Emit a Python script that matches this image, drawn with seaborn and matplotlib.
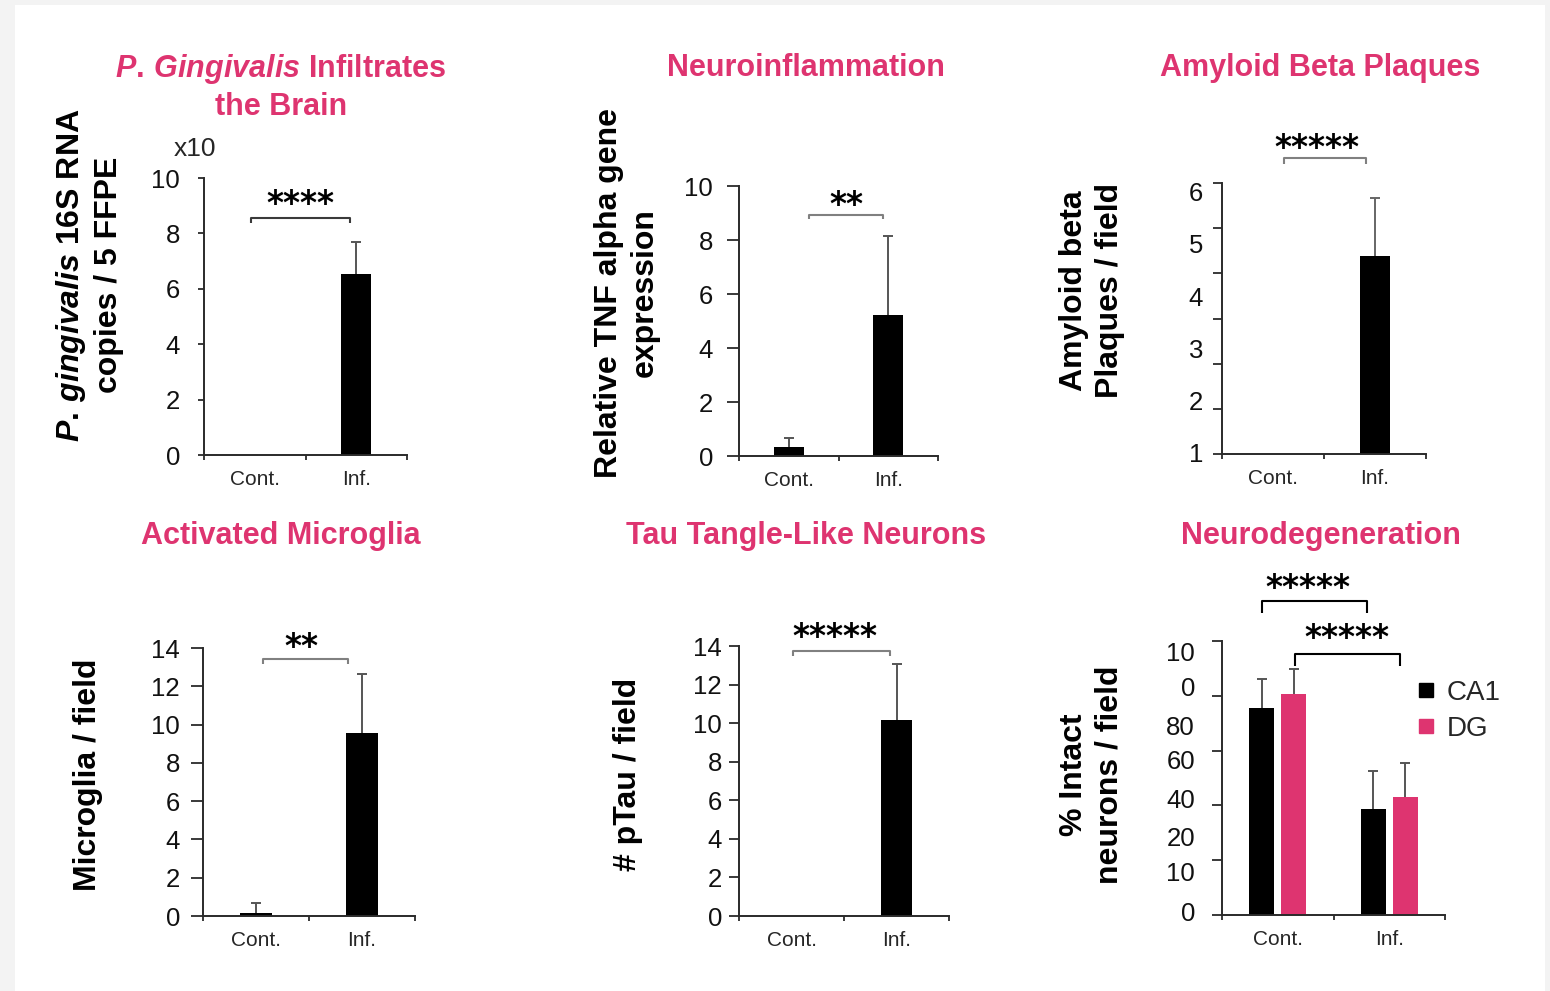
import numpy as np
import pandas as pd
import matplotlib
matplotlib.use("Agg")
import matplotlib.pyplot as plt
import seaborn as sns
from matplotlib.patches import Rectangle
from matplotlib.lines import Line2D
from matplotlib.transforms import offset_copy

sns.set_theme(style="white")
plt.rcParams["font.family"] = ["Liberation Sans", "DejaVu Sans"]
plt.rcParams["mathtext.fontset"] = "custom"
plt.rcParams["mathtext.it"] = "Liberation Sans:italic:bold"
plt.rcParams["mathtext.rm"] = "Liberation Sans:bold"

PINK = "#DE3470"

# ---------------- data ----------------
GROUPS = ["Cont.", "Inf."]

PG_MEAN = [0.0, 6.53]          # P. gingivalis 16S RNA copies (x10)
PG_ERR = [0.0, 1.15]
PG_YTICKS = [0, 2, 4, 6, 8, 10]

TNF_MEAN = [0.32, 5.21]        # relative TNF alpha expression
TNF_ERR = [0.33, 2.93]
TNF_YTICKS = [0, 2, 4, 6, 8, 10]

ABETA_MEAN = [0.0, 4.77]       # amyloid beta plaques per field
ABETA_ERR = [0.0, 1.10]
ABETA_YTICKS = [1, 2, 3, 4, 5, 6]

MICRO_MEAN = [0.17, 9.58]      # microglia per field
MICRO_ERR = [0.49, 3.04]
MICRO_YTICKS = [0, 2, 4, 6, 8, 10, 12, 14]

PTAU_MEAN = [0.0, 10.16]       # pTau per field
PTAU_ERR = [0.0, 2.89]
PTAU_YTICKS = [0, 2, 4, 6, 8, 10, 12, 14]

REGIONS = ["CA1", "DG"]
CA1_MEAN = [75.4, 38.6]        # % intact neurons per field
CA1_ERR = [10.6, 14.1]
DG_MEAN = [80.5, 43.0]
DG_ERR = [9.2, 12.4]
NEURO_YTICK_LABELS = ["0", "10", "20", "40", "60", "80", "0", "10"]

STARS = ["****", "**", "*****", "**", "*****", "*****", "*****"]

# ---------------- figure ----------------
W, H = 1550, 991
fig = plt.figure(figsize=(W / 100, H / 100), dpi=100)
fig.patch.set_facecolor("#f3f3f3")
fig.patches.append(Rectangle((15 / W, 0), 1530 / W, (H - 5) / H,
                             transform=fig.transFigure, facecolor="white",
                             edgecolor="none", zorder=-10))

PX = 0.72  # points per pixel


def px_axes(x0, y0, x1, y1):
    return fig.add_axes([x0 / W, 1 - y1 / H, (x1 - x0) / W, (y1 - y0) / H])


def ftext(x, y, s, **kw):
    return fig.text(x / W, 1 - y / H, s, **kw)


def style_axes(ax, ylim, tick_len, label_gap):
    ax.set_facecolor("none")
    for side in ("top", "right"):
        ax.spines[side].set_visible(False)
    for side in ("left", "bottom"):
        ax.spines[side].set_color("#2a2a2a")
        ax.spines[side].set_linewidth(1.4)
    ax.set_xlim(-0.5, 1.5)
    ax.set_ylim(*ylim)
    ax.set_xlabel("")
    ax.set_ylabel("")
    ax.set_xticks([0, 1])
    ax.set_xticklabels(GROUPS, fontsize=15)
    ax.set_xticks([-0.5, 0.5, 1.5], minor=True)
    ax.tick_params(axis="x", which="major", length=0, pad=10.5)
    ax.tick_params(axis="x", which="minor", length=5 * PX, width=1.3,
                   color="#2a2a2a", direction="out", bottom=True)
    ax.tick_params(axis="y", which="both", left=True, direction="out",
                   color="#2a2a2a", width=1.3, labelsize=18.5,
                   labelcolor="#111111")
    ax.tick_params(axis="y", which="major", length=tick_len * PX,
                   pad=(label_gap - tick_len) * PX)


def add_errors(ax, errs, color="#555555"):
    # upper-only error bars with a single cap
    bars = sorted(ax.patches, key=lambda p: p.get_x())
    for p, e in zip(bars, errs):
        if e <= 0:
            continue
        cx = p.get_x() + p.get_width() / 2
        _, caps, _ = ax.errorbar(cx, p.get_height(), yerr=[[0], [e]],
                                 fmt="none", ecolor=color, elinewidth=1.4,
                                 capsize=3.5, capthick=1.4, zorder=3)
        caps[0].remove()


def add_bracket(ax, x0, x1, y, drop, stars, sx, sy, color="#808080"):
    ax.plot([x0, x0, x1, x1], [y - drop, y, y, y - drop], color=color,
            lw=1.5, clip_on=False, solid_capstyle="butt")
    trans = offset_copy(ax.transData, fig=fig, x=0, y=-7 * PX,
                        units="points")
    ax.text(sx, sy, stars, ha="center", va="center", fontsize=23.5,
            family="DejaVu Sans", fontweight="bold", color="black",
            clip_on=False, transform=trans)


def simple_panel(box, mean, err, ylim, yticks, tick_len, label_gap):
    ax = px_axes(*box)
    sns.barplot(x=GROUPS, y=mean, color="black", width=0.3, saturation=1,
                errorbar=None, linewidth=0, ax=ax)
    style_axes(ax, ylim, tick_len, label_gap)
    ax.set_yticks(yticks)
    ax.set_yticklabels([str(v) for v in yticks])
    add_errors(ax, err)
    return ax


TITLE_KW = dict(fontsize=22, fontweight="bold", color=PINK, ha="center",
                va="center", multialignment="center", linespacing=1.22)
YLAB_KW = dict(fontsize=23, fontweight="bold", color="black", ha="center",
               va="center", rotation=90, multialignment="center",
               linespacing=1.25)

# --- P. gingivalis ---
ax1 = simple_panel((204, 178, 407, 455), PG_MEAN, PG_ERR, (0, 10),
                   PG_YTICKS, 6, 24)
add_bracket(ax1, -0.04, 0.94, 8.56, 0.17, STARS[0], 0.45, 9.3,
            color="#3a3a3a")
ftext(195, 149, "x10", fontsize=19, ha="center", va="center")
ftext(281, 87, "$\\mathit{P.\\,Gingivalis}$ Infiltrates\nthe Brain",
      **TITLE_KW)
ftext(89, 275, "$\\mathit{P.\\,gingivalis}$ 16S RNA\ncopies / 5 FFPE",
      **YLAB_KW)

# --- TNF alpha ---
ax2 = simple_panel((739, 186, 938, 456), TNF_MEAN, TNF_ERR, (0, 10),
                   TNF_YTICKS, 12, 26)
add_bracket(ax2, 0.2, 0.945, 8.93, 0.17, STARS[1], 0.58, 9.55)
ftext(806, 68, "Neuroinflammation", **TITLE_KW)
ftext(627, 293, "Relative TNF alpha gene\nexpression", **YLAB_KW)

# --- Amyloid beta ---
ax3 = px_axes(1222, 183, 1426, 454)
sns.barplot(x=GROUPS, y=ABETA_MEAN, color="black", width=0.3, saturation=1,
            errorbar=None, linewidth=0, ax=ax3)
abeta_lim = (0.98, 6.16)
style_axes(ax3, abeta_lim, 0, 19)
ax3.set_yticks(ABETA_YTICKS)
ax3.set_yticklabels([str(v) for v in ABETA_YTICKS])
ax3.set_yticks(np.linspace(*abeta_lim, 7), minor=True)
ax3.tick_params(axis="y", which="minor", length=9 * PX)
ax3.tick_params(axis="x", which="minor", length=5 * PX)
add_errors(ax3, ABETA_ERR, color="#666666")
add_bracket(ax3, 0.11, 0.91, 6.63, 0.1, STARS[2], 0.43, 6.95)
ftext(1320, 68, "Amyloid Beta Plaques", **TITLE_KW)
ftext(1092, 291, "Amyloid beta\nPlaques / field", **YLAB_KW)

# --- Microglia ---
ax4 = simple_panel((203, 648, 415, 916), MICRO_MEAN, MICRO_ERR, (0, 14),
                   MICRO_YTICKS, 12, 23)
add_bracket(ax4, 0.07, 0.87, 13.44, 0.26, STARS[3], 0.43, 14.4)
ftext(281, 536, "Activated Microglia", **TITLE_KW)
ftext(88, 775, "Microglia / field", **YLAB_KW)

# --- pTau ---
ax5 = simple_panel((739, 646, 949, 916), PTAU_MEAN, PTAU_ERR, (0, 14),
                   PTAU_YTICKS, 10, 17)
add_bracket(ax5, 0.01, 0.94, 13.74, 0.26, STARS[4], 0.41, 14.8)
ftext(806, 536, "Tau Tangle-Like Neurons", **TITLE_KW)
ftext(628, 774, "# pTau / field", **YLAB_KW)

# --- Neurodegeneration ---
ax6 = px_axes(1222, 641, 1445, 915)
neuro = pd.DataFrame({
    "group": GROUPS * 2,
    "region": [REGIONS[0]] * 2 + [REGIONS[1]] * 2,
    "value": CA1_MEAN + DG_MEAN,
})
sns.barplot(data=neuro, x="group", y="value", hue="region",
            palette={REGIONS[0]: "black", REGIONS[1]: PINK}, width=0.576,
            gap=0.22, saturation=1, errorbar=None, linewidth=0, legend=False,
            ax=ax6)
style_axes(ax6, (0, 100), 0, 27)
neuro_label_pos = [1.2, 15.8, 28.6, 42.7, 56.6, 69.3, 83.3, 96.1]
ax6.set_yticks(neuro_label_pos)
ax6.set_yticklabels(NEURO_YTICK_LABELS)
ax6.set_yticks(np.arange(0, 101, 20), minor=True)
ax6.tick_params(axis="y", which="minor", length=10 * PX)
ax6.tick_params(axis="x", which="minor", length=5 * PX)
add_errors(ax6, [CA1_ERR[0], DG_ERR[0], CA1_ERR[1], DG_ERR[1]])
add_bracket(ax6, -0.14, 0.80, 114.7, 4.4, STARS[5], 0.27, 121.6,
            color="black")
add_bracket(ax6, 0.157, 1.10, 95.3, 4.4, STARS[6], 0.62, 103.4,
            color="black")
handles = [Line2D([], [], marker="s", ls="", color=c, markersize=10)
           for c in ("black", PINK)]
ax6.legend(handles, REGIONS, loc="center left", frameon=False, fontsize=20,
           handlelength=0.5, handletextpad=0.5, labelspacing=0.36,
           borderpad=0, borderaxespad=0,
           bbox_to_anchor=(1419 / W, 1 - 711 / H),
           bbox_transform=fig.transFigure)
ftext(1321, 536, "Neurodegeneration", **TITLE_KW)
ftext(1092, 775, "% Intact\nneurons / field", **YLAB_KW)

fig.savefig("out.png", dpi=100, facecolor=fig.get_facecolor())
